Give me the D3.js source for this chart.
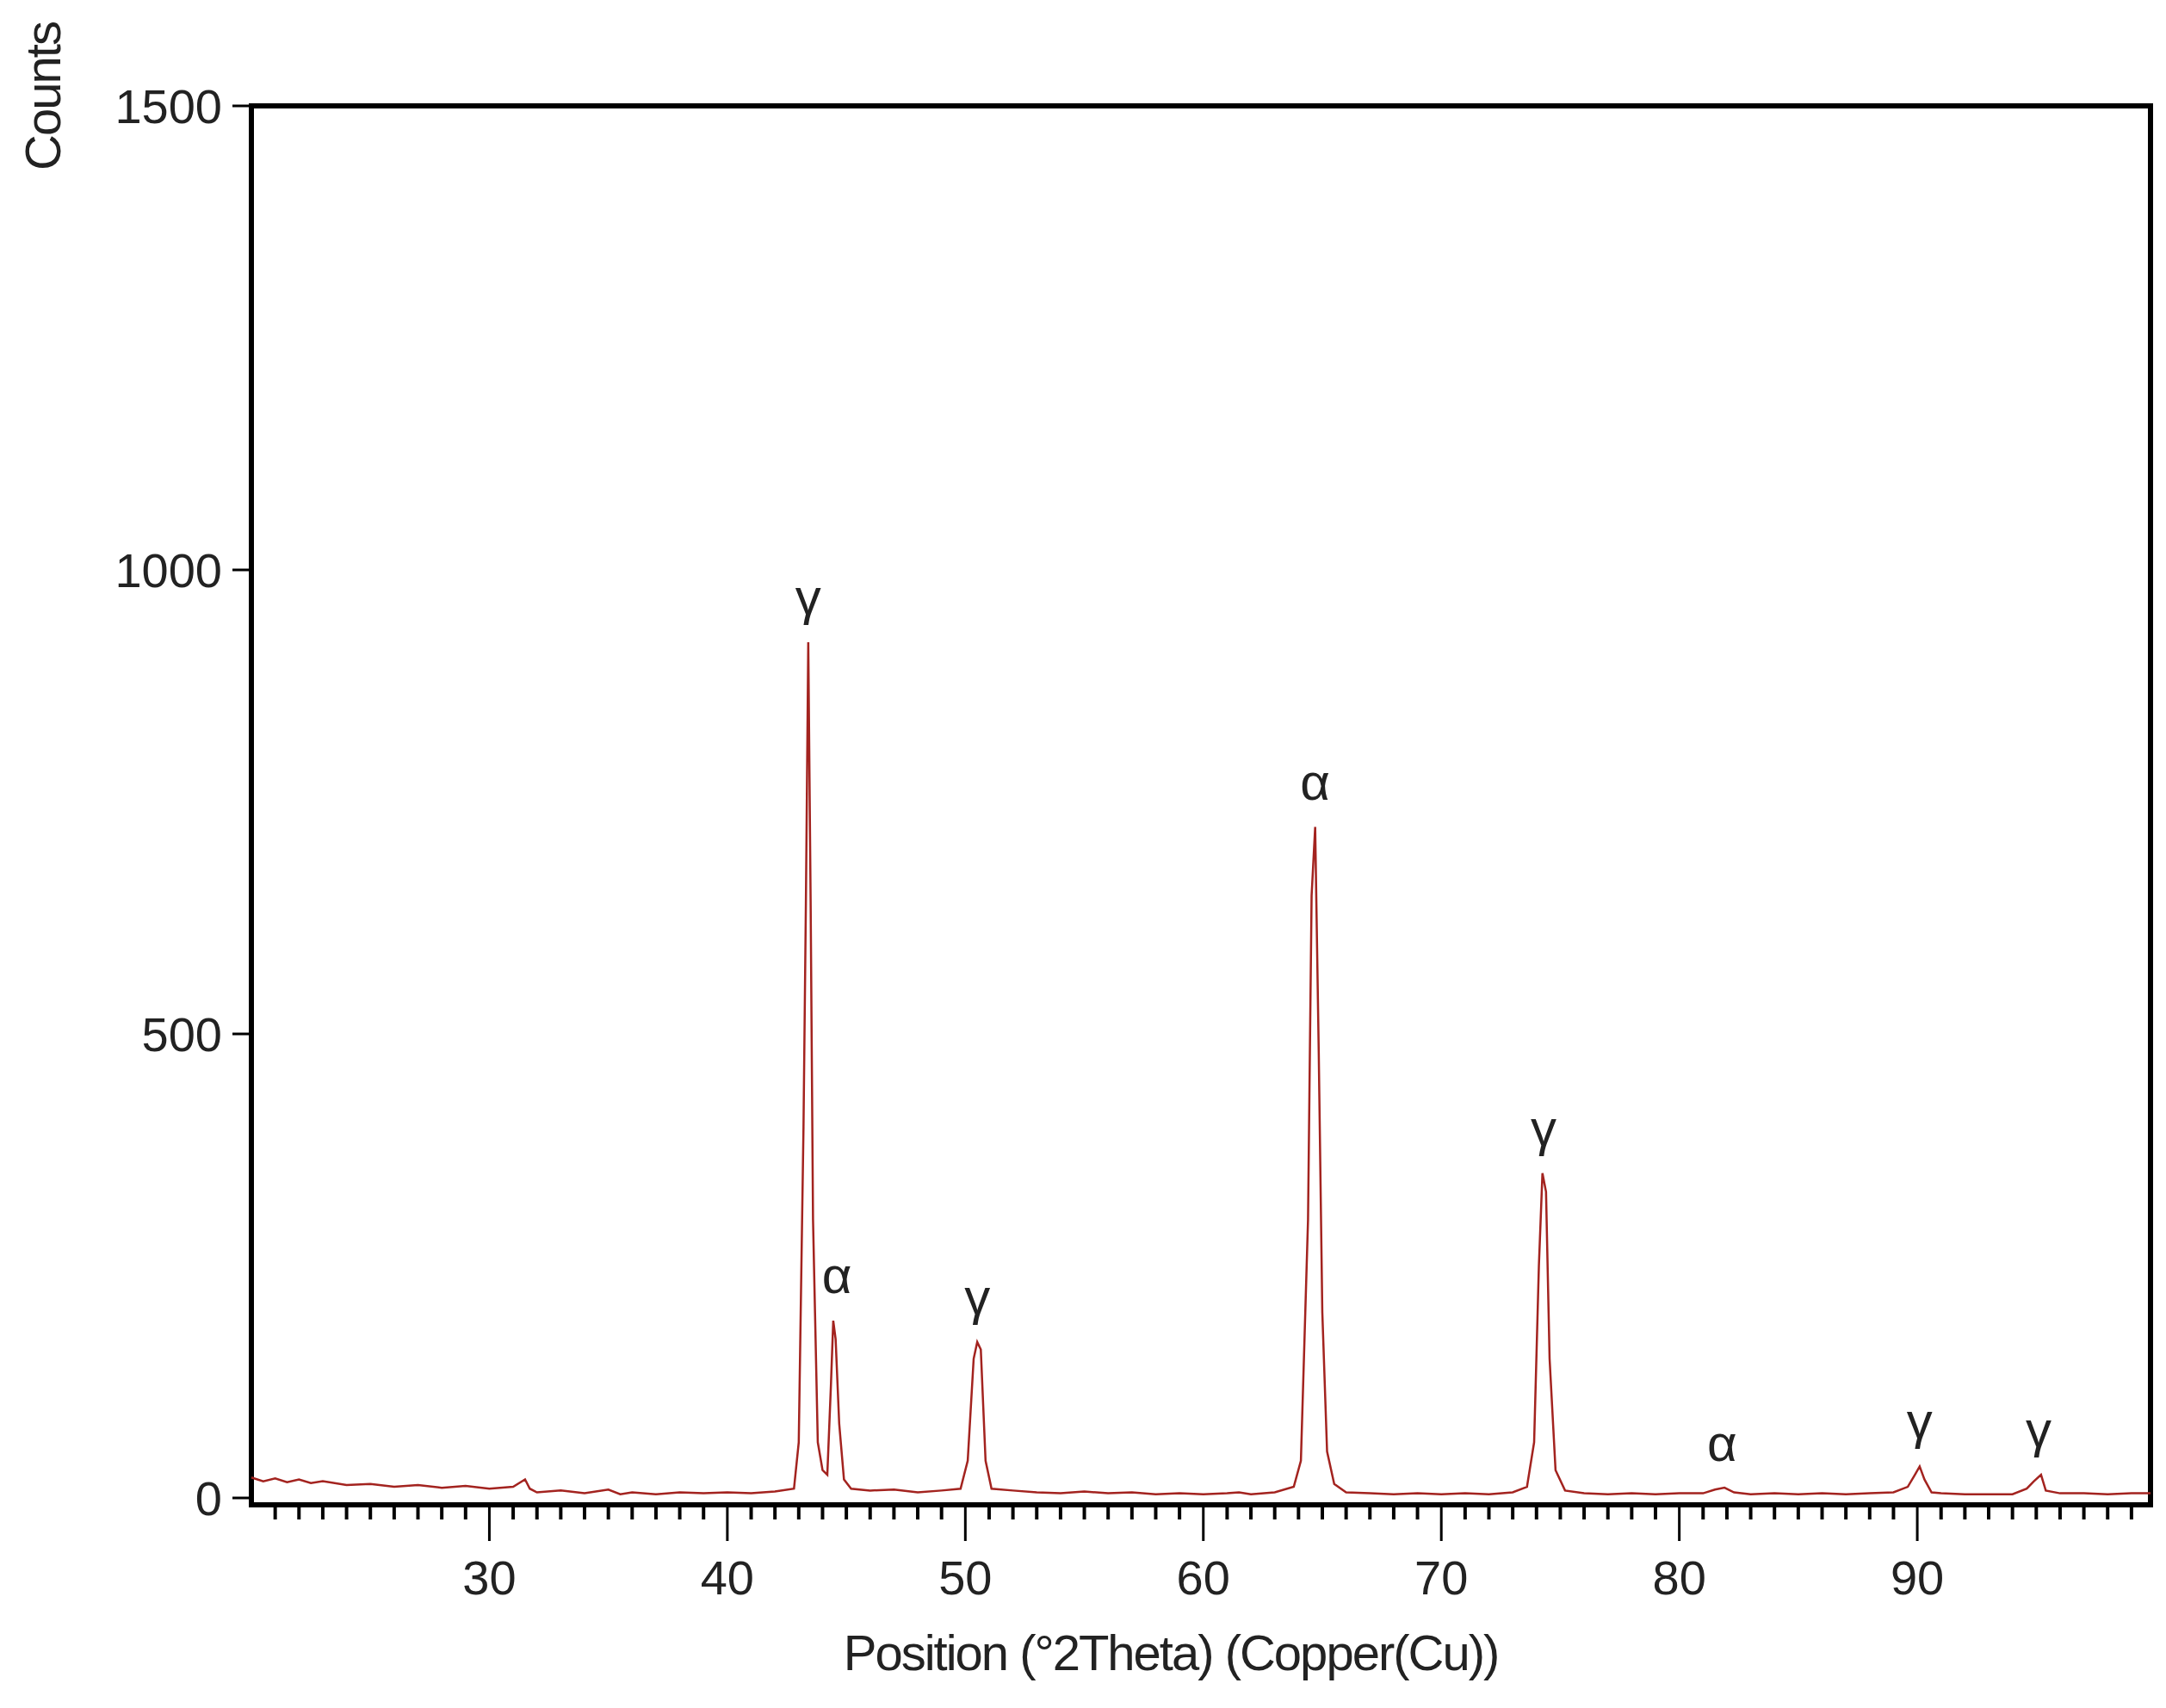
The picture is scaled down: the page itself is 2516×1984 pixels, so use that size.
<!DOCTYPE html>
<html><head><meta charset="utf-8">
<script src="https://cdn.jsdelivr.net/npm/d3@7"></script>
<style>body{margin:0;background:#fff}text{font-family:"Liberation Sans",Arial,sans-serif}</style>
</head><body><svg id="c" width="2516" height="1984"></svg>
<script>
const twoTheta = [20,20.5,21,21.5,22,22.5,23,24,25,26,27,28,29,30,31,31.5,31.7,32,33,34,35,35.5,36,37,38,39,40,41,42,42.8,43.0,43.2,43.3,43.4,43.5,43.6,43.8,44.0,44.2,44.35,44.45,44.55,44.7,44.9,45.2,46,47,48,49,49.8,50.1,50.35,50.5,50.65,50.85,51.1,52,53,54,55,56,57,58,59,60,61,61.5,62,63,63.8,64.1,64.4,64.55,64.7,64.85,65.0,65.2,65.5,66,67,68,69,70,71,72,73,73.6,73.9,74.1,74.25,74.4,74.55,74.8,75.2,76,77,78,79,80,81,81.5,81.9,82.3,83,84,85,86,87,88,89,89.6,89.9,90.1,90.3,90.6,91,92,93,94,94.6,94.9,95.2,95.4,96,97,98,99,99.8];
const counts = [22,18,21,17,20,16,18,14,15,12,14,11,13,10,12,20,10,6,8,5,9,4,6,4,6,5,6,5,7,10,60,400,640,922,640,300,60,30,25,120,191,171,80,20,10,8,9,6,8,10,40,150,168,160,40,10,8,6,5,7,5,6,4,5,4,5,6,4,6,12,40,300,649,723,480,200,50,15,6,5,4,5,4,5,4,6,12,60,250,350,330,150,30,8,5,4,5,4,5,5,9,11,6,4,5,4,5,4,5,6,12,25,34,20,6,5,4,4,4,10,18,25,8,5,5,4,5,5];
const peakLabels = ["γ","α","γ","α","γ","α","γ","γ"];
const peakPos = [43.4,44.6,50.5,64.7,74.3,81.8,90.1,95.1];
const peakHeight = [922,191,168,723,350,10,34,25];
const yTicks = [0,500,1000,1500];
const xTicks = [30,40,50,60,70,80,90];

const svg = d3.select("#c");
const L=292,R=2498,T=123,B=1740;
const x = d3.scaleLinear().domain([20,99.8]).range([L,R]);
const y = d3.scaleLinear().domain([0,1500]).range([B,T]);
const col="#a3231f";

// frame
svg.append("rect").attr("x",L).attr("y",T).attr("width",R-L).attr("height",1748-T)
  .attr("fill","none").attr("stroke","#000").attr("stroke-width",6);

// data line
svg.append("path").datum(twoTheta.map((d,i)=>[d,counts[i]]))
  .attr("d",d3.line().x(d=>x(d[0])).y(d=>y(d[1])))
  .attr("fill","none").attr("stroke",col).attr("stroke-width",2.5);

// x axis
const minor = d3.range(21,100,1);
svg.selectAll(".mt").data(minor).join("line")
  .attr("x1",d=>x(d)).attr("x2",d=>x(d)).attr("y1",1748).attr("y2",d=>d%10===0?1790:1765)
  .attr("stroke","#000").attr("stroke-width",d=>d%10===0?3:4);
svg.selectAll(".xl").data(xTicks).join("text")
  .attr("x",d=>x(d)).attr("y",1852).attr("text-anchor","middle")
  .attr("font-size",56).attr("fill","#222").text(d=>d);

// y axis
svg.selectAll(".yt").data(yTicks).join("line")
  .attr("x1",L-22).attr("x2",L).attr("y1",d=>y(d)).attr("y2",d=>y(d))
  .attr("stroke","#000").attr("stroke-width",3);
svg.selectAll(".yl").data(yTicks).join("text")
  .attr("x",258).attr("y",d=>y(d)+20).attr("text-anchor","end")
  .attr("font-size",56).attr("fill","#222").text(d=>d);

// titles
svg.append("text").attr("x",1360).attr("y",1940).attr("text-anchor","middle")
  .attr("font-size",58).attr("fill","#222").attr("letter-spacing",-2)
  .text("Position (°2Theta) (Copper(Cu))");
svg.append("text").attr("transform","translate(70,112) rotate(-90)")
  .attr("text-anchor","middle").attr("font-size",58).attr("fill","#222").attr("letter-spacing",-2).text("Counts");

// peak labels
svg.selectAll(".pl").data(peakLabels).join("text")
  .attr("x",(d,i)=>x(peakPos[i])).attr("y",(d,i)=>y(peakHeight[i])-32)
  .attr("text-anchor","middle").attr("font-size",60).attr("fill","#222").text(d=>d);
</script></body></html>
